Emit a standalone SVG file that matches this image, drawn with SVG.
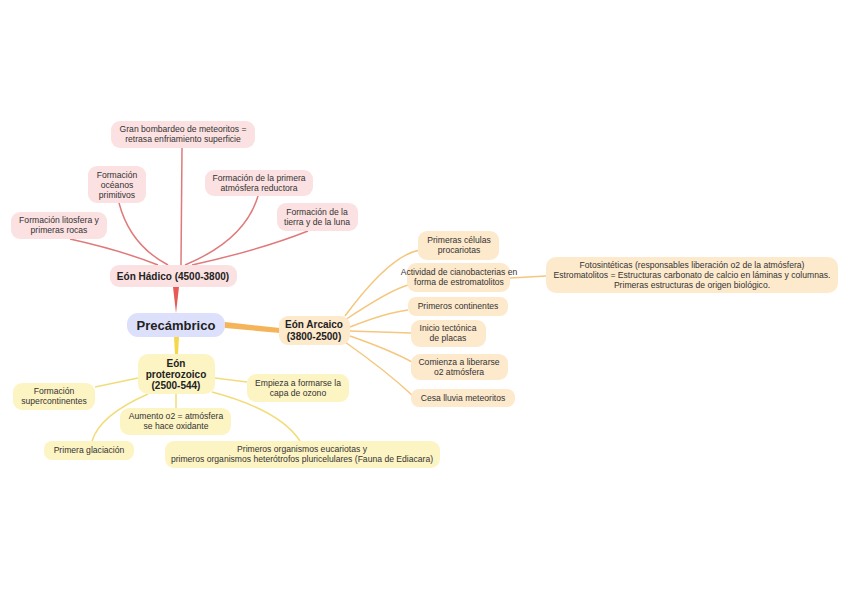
<svg xmlns="http://www.w3.org/2000/svg" width="848" height="599" viewBox="0 0 848 599">
<style>
text{font-family:"Liberation Sans",Arial,sans-serif;font-size:8.6px;fill:#333;text-anchor:middle}
.b{font-weight:bold;font-size:10px;fill:#222}
.r{fill:#fbe1e1}.y{fill:#fdf4c4}.o{fill:#fde9cc}
.lr{stroke:#e07a7a;fill:none;stroke-width:1.5}
.ly{stroke:#f2dc7a;fill:none;stroke-width:1.5}
.lo{stroke:#f5c77e;fill:none;stroke-width:1.5}
</style>
<rect width="848" height="599" fill="#fff"/>
<g id="connectors">
<path d="M176 313 L173 287 L179 287 Z" fill="#e85a55"/>
<path d="M225 322 L280 328 L280 333 L225 328 Z" fill="#f5b45a"/>
<path d="M174 337 L179 337 L178 354 L175 354 Z" fill="#f5d84a"/>
<path class="lr" d="M182 148 L181 265"/>
<path class="lr" d="M119 203 Q130 245 168 265"/>
<path class="lr" d="M258 196 Q245 240 185 265"/>
<path class="lr" d="M308 231 Q260 250 192 265"/>
<path class="lr" d="M70 239 Q120 250 158 265"/>
<path class="lo" d="M345 316 Q390 255 420 250"/>
<path class="lo" d="M345 320 Q390 290 408 285"/>
<path class="lo" d="M350 327 Q385 313 408 310"/>
<path class="lo" d="M350 331 L411 333"/>
<path class="lo" d="M350 336 Q390 350 412 362"/>
<path class="lo" d="M345 342 Q385 370 412 395"/>
<path class="lo" d="M510 278 L546 276"/>
<path class="ly" d="M138 378 L95 387"/>
<path class="ly" d="M215 378 L247 382"/>
<path class="ly" d="M176 394 L176 408"/>
<path class="ly" d="M148 394 Q100 415 92 441"/>
<path class="ly" d="M212 392 Q280 410 300 441"/>
</g>
<g id="n-bombardeo"><rect class="r" x="111" y="121" width="144" height="27" rx="9"/><text x="183" y="132">Gran bombardeo de meteoritos =</text><text x="183" y="142">retrasa enfriamiento superficie</text></g>
<g id="n-oceanos"><rect class="r" x="88" y="166" width="58" height="37" rx="9"/><text x="117" y="178">Formación</text><text x="117" y="188">océanos</text><text x="117" y="198">primitivos</text></g>
<g id="n-atmosfera"><rect class="r" x="205" y="170" width="108" height="26" rx="9"/><text x="259" y="181">Formación de la primera</text><text x="259" y="191">atmósfera reductora</text></g>
<g id="n-tierra"><rect class="r" x="277" y="203" width="81" height="28" rx="9"/><text x="317" y="215">Formación de la</text><text x="317" y="225">tierra y de la luna</text></g>
<g id="n-litosfera"><rect class="r" x="11" y="212" width="96" height="27" rx="9"/><text x="59" y="223">Formación litosfera y</text><text x="59" y="233">primeras rocas</text></g>
<g id="n-hadico"><rect class="r" x="110" y="265" width="127" height="22" rx="9"/><text class="b" x="173" y="280">Eón Hádico (4500-3800)</text></g>
<g id="n-precambrico"><rect x="127" y="313" width="98" height="24" rx="11" fill="#dde0fb"/><text class="b" x="176" y="330" style="font-size:13px">Precámbrico</text></g>
<g id="n-arcaico"><rect class="o" x="279" y="316" width="71" height="29" rx="9"/><text class="b" x="314" y="328">Eón Arcaico</text><text class="b" x="314" y="340">(3800-2500)</text></g>
<g id="n-celulas"><rect class="o" x="418" y="231" width="81" height="29" rx="9"/><text x="459" y="243">Primeras células</text><text x="459" y="253">procariotas</text></g>
<g id="n-ciano"><rect class="o" x="407" y="263" width="103" height="29" rx="9"/><text x="459" y="275">Actividad de cianobacterias en</text><text x="459" y="285">forma de estromatolitos</text></g>
<g id="n-foto"><rect class="o" x="546" y="257" width="292" height="36" rx="10"/><text x="692" y="268">Fotosintéticas (responsables liberación o2 de la atmósfera)</text><text x="692" y="278">Estromatolitos = Estructuras carbonato de calcio en láminas y columnas.</text><text x="692" y="288">Primeras estructuras de origen biológico.</text></g>
<g id="n-continentes"><rect class="o" x="408" y="297" width="100" height="19" rx="8"/><text x="458" y="309">Primeros continentes</text></g>
<g id="n-tectonica"><rect class="o" x="411" y="320" width="75" height="27" rx="9"/><text x="448" y="331">Inicio tectónica</text><text x="448" y="341">de placas</text></g>
<g id="n-liberarse"><rect class="o" x="411" y="354" width="97" height="26" rx="9"/><text x="459" y="365">Comienza a liberarse</text><text x="459" y="375">o2 atmósfera</text></g>
<g id="n-cesa"><rect class="o" x="411" y="389" width="104" height="18" rx="8"/><text x="463" y="401">Cesa lluvia meteoritos</text></g>
<g id="n-proterozoico"><rect class="y" x="138" y="354" width="77" height="40" rx="10"/><text class="b" x="176" y="367">Eón</text><text class="b" x="176" y="378">proterozoico</text><text class="b" x="176" y="389">(2500-544)</text></g>
<g id="n-super"><rect class="y" x="13" y="383" width="82" height="27" rx="9"/><text x="54" y="394">Formación</text><text x="54" y="404">supercontinentes</text></g>
<g id="n-ozono"><rect class="y" x="247" y="374" width="102" height="28" rx="9"/><text x="298" y="386">Empieza a formarse la</text><text x="298" y="396">capa de ozono</text></g>
<g id="n-o2"><rect class="y" x="120" y="408" width="111" height="27" rx="9"/><text x="176" y="419">Aumento o2 = atmósfera</text><text x="176" y="429">se hace oxidante</text></g>
<g id="n-glaciacion"><rect class="y" x="44" y="441" width="90" height="19" rx="8"/><text x="89" y="453">Primera glaciación</text></g>
<g id="n-organismos"><rect class="y" x="165" y="441" width="275" height="27" rx="9"/><text x="302" y="452">Primeros organismos eucariotas y</text><text x="302" y="462">primeros organismos heterótrofos pluricelulares (Fauna de Ediacara)</text></g>
</svg>
